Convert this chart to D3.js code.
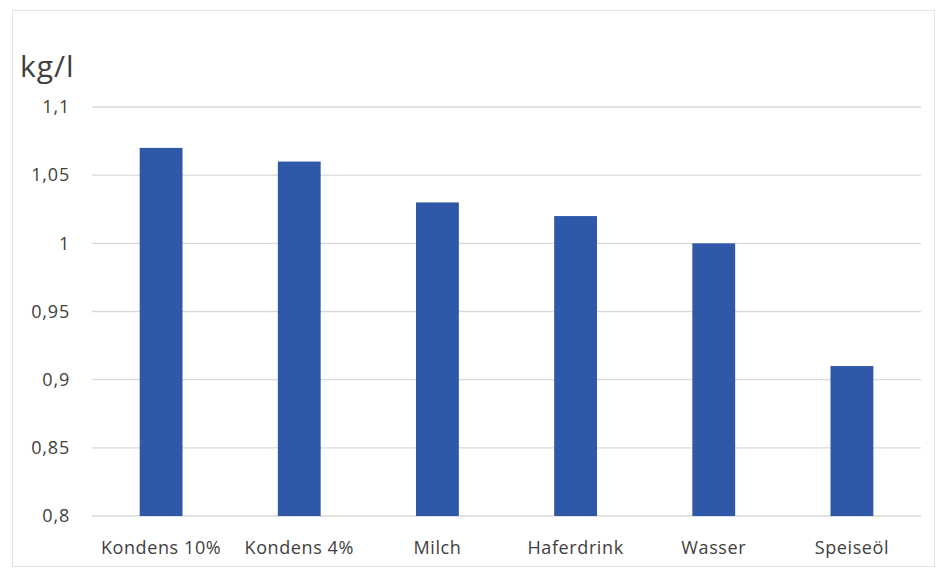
<!DOCTYPE html>
<html><head><meta charset="utf-8">
<script src="https://cdn.jsdelivr.net/npm/d3@7"></script>
<style>body{margin:0;background:#fff}svg{display:block}text{font-family:"Open Sans","Noto Sans",sans-serif;fill:#404040}</style>
</head><body><svg id="c" width="939" height="571"></svg>
<script>
const categories = ["Kondens 10%","Kondens 4%","Milch","Haferdrink","Wasser","Speiseöl"];
const values = [1.07,1.06,1.03,1.02,1.00,0.91];
const yTicks = [0.8,0.85,0.9,0.95,1.0,1.05,1.1];
const yTickLabels = ["0,8","0,85","0,9","0,95","1","1,05","1,1"];
const unitLabel = "kg/l";

(function(){
const svg = d3.select("#c");
const mL = 92, mR = 921, mT = 107, mB = 516;
svg.append("rect").attr("x",12.5).attr("y",10.5).attr("width",922).attr("height",556)
  .attr("fill","#fff").attr("stroke","#e4e4e4");

const x = d3.scaleBand().domain(categories).range([mL,mR]).paddingInner(0.69).paddingOuter(0.345);
const y = d3.scaleLinear().domain([0.8,1.1]).range([mB,mT]);

const grid = svg.append("g");
grid.selectAll("line").data(yTicks).join("line")
  .attr("x1",mL).attr("x2",mR).attr("y1",d=>y(d)).attr("y2",d=>y(d))
  .attr("stroke","#d9d9d9").attr("stroke-width",1.3);

const yAxis = d3.axisLeft(y).tickValues(yTicks).tickFormat((d,i)=>yTickLabels[i]).tickSize(0).tickPadding(22);
const ga = svg.append("g").attr("transform",`translate(${mL},0)`).call(yAxis);
ga.select(".domain").remove();
ga.selectAll("text").attr("font-size",18).attr("letter-spacing",0.8).attr("fill","#404040").style("font-family",'"Open Sans",sans-serif');

svg.selectAll("rect.bar").data(values).join("rect").attr("class","bar")
  .attr("x",(d,i)=>x(categories[i])).attr("width",x.bandwidth())
  .attr("y",d=>y(d)).attr("height",d=>y(0.8)-y(d)).attr("fill","#2f58a8");

const xAxis = d3.axisBottom(x).tickSize(0).tickPadding(25);
const gx = svg.append("g").attr("transform",`translate(0,${mB})`).call(xAxis);
gx.select(".domain").remove();
gx.selectAll("text").attr("font-size",18).attr("letter-spacing",0.6).attr("fill","#404040").style("font-family",'"Open Sans",sans-serif');

svg.append("text").attr("x",20).attr("y",77).attr("font-size",30).attr("letter-spacing",1).text(unitLabel);
})();
</script></body></html>
